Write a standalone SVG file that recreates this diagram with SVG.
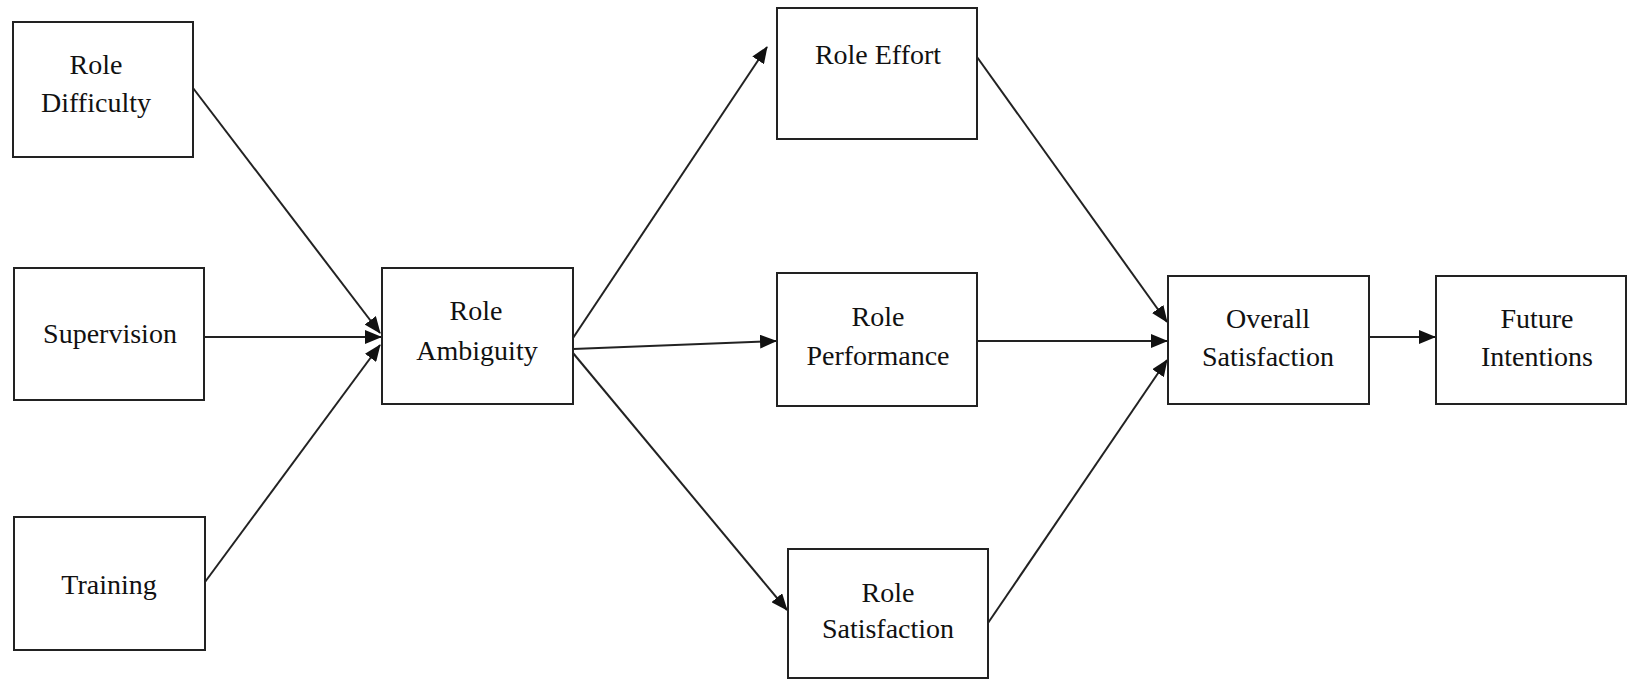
<svg xmlns="http://www.w3.org/2000/svg" width="1627" height="680" viewBox="0 0 1627 680">
<defs>
<marker id="ah" markerUnits="userSpaceOnUse" markerWidth="17" markerHeight="14" viewBox="0 0 17 14" refX="16" refY="7" orient="auto">
<path d="M0,0 L17,7 L0,14 Z" fill="#111"/>
</marker>
<style>
.box{fill:#fff;stroke:#222;stroke-width:2}
.t{font-family:"Liberation Serif","Times New Roman",serif;font-size:28px;fill:#111;text-anchor:middle}
.c{stroke:#222;stroke-width:2;fill:none;marker-end:url(#ah)}
</style>
</defs>
<rect width="1627" height="680" fill="#fff"/>
<g id="connectors">
<line class="c" x1="193" y1="88" x2="380" y2="333"/>
<line class="c" x1="205" y1="337" x2="381" y2="337"/>
<line class="c" x1="205" y1="582" x2="380" y2="345"/>
<line class="c" x1="573" y1="338" x2="767" y2="47"/>
<line class="c" x1="573" y1="349" x2="776" y2="341"/>
<line class="c" x1="573" y1="353" x2="787" y2="610"/>
<line class="c" x1="977" y1="57" x2="1167" y2="322"/>
<line class="c" x1="977" y1="341" x2="1167" y2="341"/>
<line class="c" x1="988" y1="623" x2="1167" y2="360"/>
<line class="c" x1="1369" y1="337" x2="1435" y2="337"/>
</g>
<g id="role-difficulty">
<rect class="box" x="13" y="22" width="180" height="135"/>
<text class="t" x="96" y="74">Role</text>
<text class="t" x="96" y="112">Difficulty</text>
</g>
<g id="supervision">
<rect class="box" x="14" y="268" width="190" height="132"/>
<text class="t" x="110" y="343">Supervision</text>
</g>
<g id="training">
<rect class="box" x="14" y="517" width="191" height="133"/>
<text class="t" x="109" y="594">Training</text>
</g>
<g id="role-ambiguity">
<rect class="box" x="382" y="268" width="191" height="136"/>
<text class="t" x="476" y="320">Role</text>
<text class="t" x="477" y="360">Ambiguity</text>
</g>
<g id="role-effort">
<rect class="box" x="777" y="8" width="200" height="131"/>
<text class="t" x="878" y="64">Role Effort</text>
</g>
<g id="role-performance">
<rect class="box" x="777" y="273" width="200" height="133"/>
<text class="t" x="878" y="326">Role</text>
<text class="t" x="878" y="365">Performance</text>
</g>
<g id="role-satisfaction">
<rect class="box" x="788" y="549" width="200" height="129"/>
<text class="t" x="888" y="602">Role</text>
<text class="t" x="888" y="638">Satisfaction</text>
</g>
<g id="overall-satisfaction">
<rect class="box" x="1168" y="276" width="201" height="128"/>
<text class="t" x="1268" y="328">Overall</text>
<text class="t" x="1268" y="366">Satisfaction</text>
</g>
<g id="future-intentions">
<rect class="box" x="1436" y="276" width="190" height="128"/>
<text class="t" x="1537" y="328">Future</text>
<text class="t" x="1537" y="366">Intentions</text>
</g>
</svg>
